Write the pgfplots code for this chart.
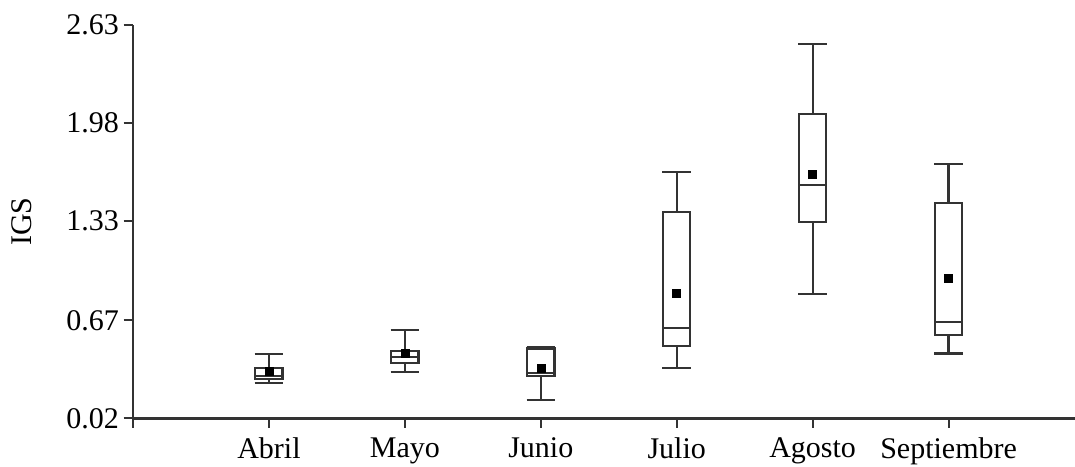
\documentclass[border=0pt]{standalone}
\usepackage{fontspec}
\setmainfont{Liberation Serif}
\usepackage{pgfplots}
\pgfplotsset{compat=1.18}
\usepgfplotslibrary{statistics}
\usetikzlibrary{calc}

\begin{document}
\begin{tikzpicture}
\begin{axis}[
  scale only axis,
  width=706.5pt, height=295pt,
  xmin=0, xmax=6.93,
  ymin=0.02, ymax=2.63,
  axis x line*=bottom, axis y line*=left,
  axis line style={line width=1.8pt, black!80},
  ytick={0.02,0.67,1.33,1.98,2.63},
  yticklabels={0.02,0.67,1.33,1.98,2.63},
  xtick={0,1,2,3,4,5,6},
  xticklabels={,Abril,Mayo,Junio,Julio,Agosto,Septiembre},
  xticklabel style={yshift=-4pt},
  tick align=outside,
  major tick length=7pt,
  tick style={line width=1.4pt, black!80},
  font=\fontsize{22.5}{27}\selectfont,
  every axis y label/.style={at={(axis description cs:-0.108,0.5)}, anchor=base, rotate=90},
  ylabel={IGS},
  boxplot/draw direction=y,
  boxplot/box extend=0.2,
  boxplot/whisker extend=0.21,
  clip=false,
]
% monthly IGS distributions
\addplot[boxplot prepared={lower whisker=0.256, lower quartile=0.279, median=0.30, upper quartile=0.356, upper whisker=0.447, draw position=1}, line width=1.7pt, black!80] coordinates {};
\addplot[boxplot prepared={lower whisker=0.329, lower quartile=0.385, median=0.429, upper quartile=0.467, upper whisker=0.606, draw position=2}, line width=1.7pt, black!80] coordinates {};
\addplot[boxplot prepared={lower whisker=0.141, lower quartile=0.30, median=0.32, upper quartile=0.484, upper whisker=0.49, draw position=3}, line width=1.7pt, black!80] coordinates {};
\addplot[boxplot prepared={lower whisker=0.356, lower quartile=0.502, median=0.621, upper quartile=1.391, upper whisker=1.656, draw position=4}, line width=1.7pt, black!80] coordinates {};
\addplot[boxplot prepared={lower whisker=0.847, lower quartile=1.325, median=1.568, upper quartile=2.039, upper whisker=2.504, draw position=5}, line width=1.7pt, black!80] coordinates {};
\addplot[boxplot prepared={lower whisker=0.451, lower quartile=0.571, median=0.661, upper quartile=1.447, upper whisker=1.707, draw position=6}, line width=1.7pt, black!80] coordinates {};
% monthly means
\addplot[only marks, mark=square*, mark size=3pt, black] coordinates {
  (1,0.330) (2,0.451) (3,0.352) (4,0.853) (5,1.639) (6,0.949)
};
\end{axis}
\pgfresetboundingbox
\path ($(current axis.south west)+(-99.75pt,-35.8pt)$) rectangle ($(current axis.north east)+(0,18.75pt)$);
\end{tikzpicture}
\end{document}
